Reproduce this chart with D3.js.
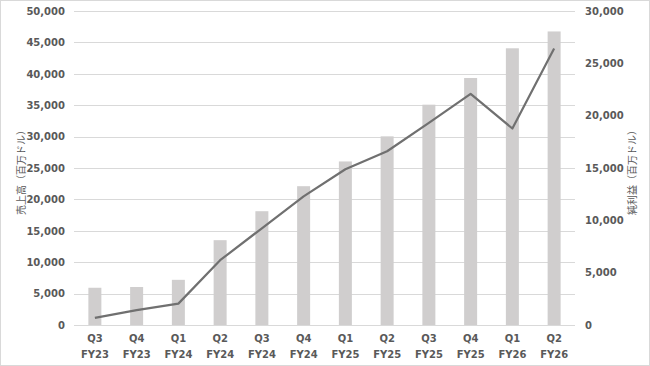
<!DOCTYPE html>
<html>
<head>
<meta charset="utf-8">
<script src="https://cdn.jsdelivr.net/npm/d3@7"></script>
<style>
  body { margin: 0; background: #fff; }
  svg text { font-family: Verdana, "DejaVu Sans", sans-serif; }
</style>
</head>
<body>
<div class="chart"></div>
<script>
// 四半期ごとの売上高と純利益（百万ドル）
var quarters = ["Q3", "Q4", "Q1", "Q2", "Q3", "Q4", "Q1", "Q2", "Q3", "Q4", "Q1", "Q2"];
var fiscalYears = ["FY23", "FY23", "FY24", "FY24", "FY24", "FY24", "FY25", "FY25", "FY25", "FY25", "FY26", "FY26"];
var revenue = [5931, 6051, 7192, 13507, 18120, 22103, 26044, 30040, 35082, 39331, 44062, 46743];
var netIncome = [680, 1414, 2043, 6188, 9243, 12285, 14881, 16599, 19309, 22091, 18775, 26422];
var leftTicks = [0, 5000, 10000, 15000, 20000, 25000, 30000, 35000, 40000, 45000, 50000];
var rightTicks = [0, 5000, 10000, 15000, 20000, 25000, 30000];

var W = 650, H = 366;
var plotLeft = 74, plotRight = 575, plotTop = 11, plotBottom = 325;
var fmt = d3.format(",d");
var textColor = "#595959";

var svg = d3.select(".chart").append("svg")
    .attr("width", W)
    .attr("height", H);

// 外枠
svg.append("rect")
    .attr("x", 0.5).attr("y", 0.5)
    .attr("width", W - 1).attr("height", H - 1)
    .attr("fill", "#fff")
    .attr("stroke", "#d9d9d9");

var keys = d3.range(quarters.length);

var x = d3.scaleBand()
    .domain(keys)
    .range([plotLeft, plotRight])
    .paddingInner(0)
    .paddingOuter(0);

var yL = d3.scaleLinear().domain([0, 50000]).range([plotBottom, plotTop]);
var yR = d3.scaleLinear().domain([0, 30000]).range([plotBottom, plotTop]);

// グリッド
svg.append("g")
    .selectAll("line")
    .data(leftTicks)
    .enter()
    .append("line")
    .attr("x1", plotLeft).attr("x2", plotRight)
    .attr("y1", function(d){ return Math.round(yL(d)) + 0.5; })
    .attr("y2", function(d){ return Math.round(yL(d)) + 0.5; })
    .attr("stroke", "#d9d9d9");

// 左軸
var axL = svg.append("g")
    .attr("transform", "translate(" + plotLeft + ",0)")
    .call(d3.axisLeft(yL).tickValues(leftTicks).tickFormat(fmt).tickSize(0).tickPadding(9));
axL.select(".domain").remove();
axL.selectAll("text")
    .attr("fill", textColor)
    .style("font-size", "10px")
    .style("font-weight", "bold");

// 右軸
var axR = svg.append("g")
    .attr("transform", "translate(" + plotRight + ",0)")
    .call(d3.axisRight(yR).tickValues(rightTicks).tickFormat(fmt).tickSize(0).tickPadding(10));
axR.select(".domain").remove();
axR.selectAll("text")
    .attr("fill", textColor)
    .style("font-size", "10px")
    .style("font-weight", "bold");

// 棒（売上高）
var barW = 13;
svg.append("g")
    .selectAll("rect")
    .data(revenue)
    .enter()
    .append("rect")
    .attr("x", function(d, i){ return x(i) + x.bandwidth() / 2 - barW / 2; })
    .attr("y", function(d){ return yL(d); })
    .attr("width", barW)
    .attr("height", function(d){ return yL(0) - yL(d); })
    .attr("fill", "#d0cece");

// 折れ線（純利益）
var line = d3.line()
    .x(function(d, i){ return x(i) + x.bandwidth() / 2; })
    .y(function(d){ return yR(d); });

svg.append("path")
    .datum(netIncome)
    .attr("d", line)
    .attr("fill", "none")
    .attr("stroke", "#707070")
    .attr("stroke-width", 2.2)
    .attr("stroke-linejoin", "round");

// X軸ラベル
var xl = svg.append("g")
    .selectAll("text")
    .data(keys)
    .enter()
    .append("text")
    .attr("text-anchor", "middle")
    .attr("fill", textColor)
    .style("font-size", "10px")
    .style("font-weight", "bold");
xl.append("tspan")
    .attr("x", function(d){ return x(d) + x.bandwidth() / 2; })
    .attr("y", 342)
    .text(function(d){ return quarters[d]; });
xl.append("tspan")
    .attr("x", function(d){ return x(d) + x.bandwidth() / 2; })
    .attr("y", 358)
    .text(function(d){ return fiscalYears[d]; });

// 軸タイトル
svg.append("text")
    .attr("transform", "translate(25," + ((plotTop + plotBottom) / 2 + 2) + ") rotate(-90)")
    .attr("text-anchor", "middle")
    .attr("fill", textColor)
    .style("font-family", "'Noto Sans CJK JP', sans-serif")
    .style("font-size", "10px")
    .text("売上高（百万ドル）");

svg.append("text")
    .attr("transform", "translate(636," + ((plotTop + plotBottom) / 2 + 2) + ") rotate(-90)")
    .attr("text-anchor", "middle")
    .attr("fill", textColor)
    .style("font-family", "'Noto Sans CJK JP', sans-serif")
    .style("font-size", "10px")
    .text("純利益（百万ドル）");
</script>
</body>
</html>
